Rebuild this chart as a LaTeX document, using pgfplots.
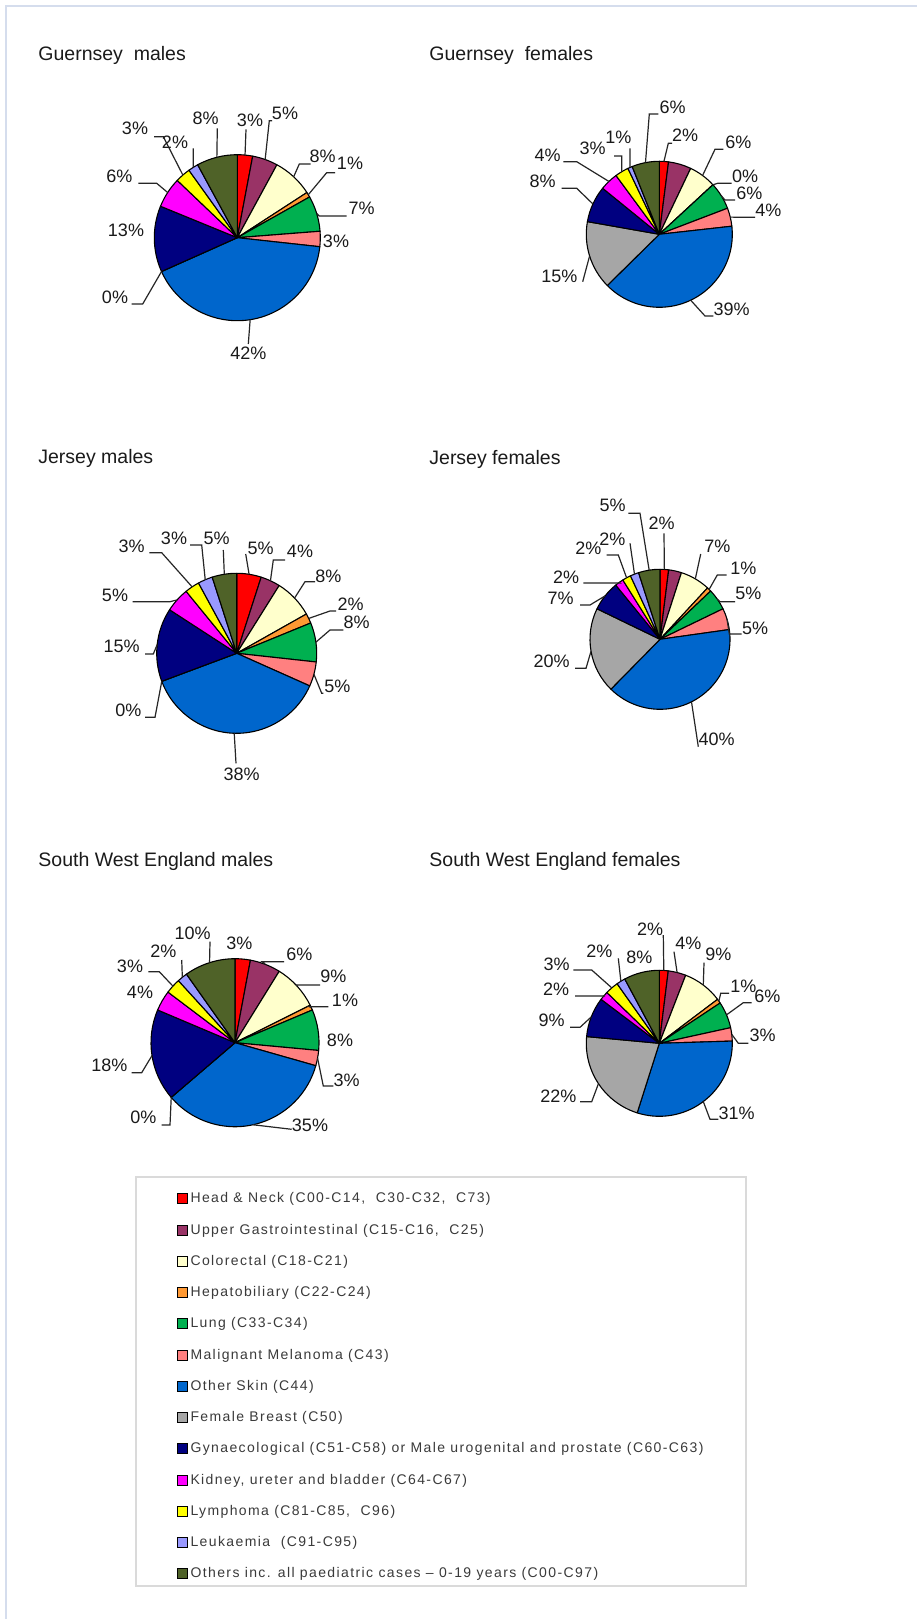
\documentclass[border=0pt]{standalone}
\usepackage{pgfplots}
\pgfplotsset{compat=1.18}
\usepackage{pgfplotstable}
\usepackage{fontspec}
\setmainfont{Liberation Sans}
\newfontfamily\legfont{Liberation Sans}[LetterSpace=10]

\definecolor{c0}{HTML}{FF0000}
\definecolor{c1}{HTML}{993366}
\definecolor{c2}{HTML}{FFFFCC}
\definecolor{c3}{HTML}{FF9933}
\definecolor{c4}{HTML}{00B050}
\definecolor{c5}{HTML}{FF8080}
\definecolor{c6}{HTML}{0066CC}
\definecolor{c7}{HTML}{A6A6A6}
\definecolor{c8}{HTML}{000080}
\definecolor{c9}{HTML}{FF00FF}
\definecolor{c10}{HTML}{FFFF00}
\definecolor{c11}{HTML}{9999FF}
\definecolor{c12}{HTML}{4F6228}
\definecolor{txtcol}{HTML}{1A1A1A}
\definecolor{legtxt}{HTML}{3A3A3A}
\definecolor{pageline}{HTML}{D5DDED}
\definecolor{legframe}{HTML}{DADADA}

% columns: v = percentage, s = label shown, tx ty = label centre (px),
% l = leader drawn, ex ey = leader elbow (px), fx = leader end x (px)
\pgfplotstableread{
v s tx ty l ex ey fx
3 1 250 120.7 1 246 129.3 246
5 1 285 113.3 1 269.3 120.7 272
8 1 322.7 156.7 1 299.3 164 310.7
1 1 350 163.3 1 326.7 172.7 335
7 1 361.7 208.3 1 319.3 216 346.7
3 1 336 241.7 0 0 0 0
42 1 248.3 353.3 1 248.3 344 248.3
0 1 115 297.7 1 142.7 304 131.7
13 1 126 230.7 0 0 0 0
6 1 119.3 176 1 156.7 183.3 138.3
3 1 135 128.3 1 163.3 136.7 154
2 1 175 142.7 1 193.3 148.3 193.3
8 1 205.7 118.3 1 217.3 128.3 217.3
}\gm
\pgfplotstableread{
v s tx ty l ex ey fx
2 1 685 135 1 668.3 143.3 672
5 0 0 0 0 0 0 0
6 1 738.3 142.7 1 715 149.3 723.3
0 1 745 176 1 717.7 183.3 731.7
6 1 749.3 193.3 1 725 200 735
4 1 768.3 210.7 1 740 217.3 755
39 1 731.7 309.3 1 705 316 713.3
15 1 559.3 276 1 582.7 281.7 582.7
8 1 542.7 181.7 1 576.7 188.3 561.7
4 1 547.7 155 1 576.7 161.7 563.3
3 1 592.7 148.3 1 621.7 156 614
1 1 618.3 137.3 1 630 148.3 630
6 1 672.7 107.3 1 649.3 114 658.3
}\gf
\pgfplotstableread{
v s tx ty l ex ey fx
5 1 260.7 548.3 1 245.7 554 245.7
4 1 300 551.7 1 273.3 560 285
8 1 328.3 576 1 305 581.7 315
2 1 350.7 604.5 1 330 611 336
8 1 356.7 622.5 1 330 630 343.3
5 1 337.3 686.7 1 321.7 693.3 323.3
38 1 241.7 774 1 236 763.3 236
0 1 128.3 710 1 155 717.3 145
15 1 121.7 646.7 1 153.3 654 145
5 1 115 595 1 170 601.7 132.7
3 1 131.7 546.7 1 161.7 552.7 149.3
3 1 174 538.3 1 201.7 545 190
5 1 216.7 538.3 1 223.3 550 223.3
}\jm
\pgfplotstableread{
v s tx ty l ex ey fx
2 1 661.7 523.3 1 664 533.3 664
3 0 0 0 0 0 0 0
7 1 717.3 546.7 1 700.7 554 700.7
1 1 743.3 568.3 1 717.3 575 726.7
5 1 748.3 593.3 1 720 601.7 735
5 1 755 628.3 1 729.3 634 741.7
40 1 716.7 739.3 1 698.3 746.7 698.3
20 1 551.7 661.7 1 586 668.3 575
7 1 560.7 598.3 1 590 605 580
2 1 566 577.3 1 620 583 583.3
2 1 588.3 548.3 1 618.3 555 606.7
2 1 612.3 539.3 1 630 543.3 630
5 1 612.7 505 1 640 513.3 628.3
}\jf
\pgfplotstableread{
v s tx ty l ex ey fx
3 1 239.3 943.3 0 0 0 0
6 1 299.3 954 1 262 961.7 284
9 1 333.3 976 1 296.7 985 320
1 1 345 1000 1 309.3 1006.7 328.3
8 1 340 1040.7 0 0 0 0
3 1 346.7 1080 1 323.3 1086 333.3
35 1 310 1125 1 291.7 1129.3 291.7
0 1 143.3 1117.3 1 170 1125 161.7
18 1 109.3 1065 1 141.7 1072.7 131.7
4 1 140 992.7 0 0 0 0
3 1 130 966 1 159.3 971.7 148.3
2 1 163.3 951.7 1 181.7 960 181.7
10 1 192.7 933.3 1 210 941.7 210
}\sm
\pgfplotstableread{
v s tx ty l ex ey fx
2 1 650 929.3 1 663.3 935 663.3
4 1 688.3 943.3 1 674 951.7 674
9 1 718.3 954 1 704 962.7 704
1 1 743.3 986 1 720.7 993.3 729
6 1 767.3 996 1 743.3 1002.7 751.7
3 1 762.7 1035 1 738.3 1043.3 748.3
31 1 736.7 1113.3 1 710 1119.3 718.3
22 1 558.3 1096.7 1 591.7 1101.7 580
9 1 551.7 1020.7 1 580 1027.3 570
2 1 556 989.3 1 605 996 575
3 1 556.7 964 1 591.7 970 573.3
2 1 599.3 951.7 1 618.3 958.3 618.3
8 1 639.3 957.3 0 0 0 0
}\sf

\pgfplotsset{
  pieax/.style={hide axis, disabledatascaling, x=0.5pt, y=0.5pt, y dir=reverse,
    xmin=0, xmax=917, ymin=0, ymax=1619, clip=false,
    anchor=south west, at={(0pt,0pt)}},
  sqleg/.style={legend image code/.code={%
    \draw[##1, line width=0.5pt] (0pt,-2.5pt) rectangle (5pt,2.5pt);
    \path[draw=none, fill=none] (6.5pt,0pt) circle[radius=0.01pt];}},
}
\tikzset{
  lbl/.style={font=\fontsize{9}{10}\selectfont, text=txtcol, inner sep=0pt},
  ldr/.style={draw=black!85, line width=0.6pt},
  ttl/.style={font=\fontsize{9.75}{11}\selectfont, text=txtcol, inner sep=0pt, anchor=base west},
}

% #1 table, #2 centre x (px), #3 centre y (px), #4 radius (px)
\newcommand\drawpie[4]{%
  \def\pieT{0}%
  \pgfplotsforeachungrouped \i in {0,...,12}{%
    \pgfplotstablegetelem{\i}{v}\of#1%
    \pgfmathsetmacro\pieT{\pieT+\pgfplotsretval}%
  }%
  \pgfmathsetmacro\pieU{360/\pieT}%
  \pgfmathsetmacro\pieR{#4*0.5}%
  \def\piecum{0}%
  \pgfplotsforeachungrouped \i in {0,...,12}{%
    \pgfplotstablegetelem{\i}{v}\of#1\let\pieV\pgfplotsretval
    \pgfmathsetmacro\pieA{90-\piecum*\pieU}%
    \pgfmathsetmacro\piecum{\piecum+\pieV}%
    \pgfmathsetmacro\pieB{90-\piecum*\pieU}%
    \pgfmathsetmacro\pieSX{#2+#4*cos(\pieA)}%
    \pgfmathsetmacro\pieSY{#3-#4*sin(\pieA)}%
    \edef\cmd{\noexpand\filldraw[fill=c\i, draw=black, line width=0.55pt, line join=round]
      (axis cs:#2,#3) -- (axis cs:\pieSX,\pieSY)
      arc[start angle=\pieA, end angle=\pieB, radius=\pieR pt] -- cycle;}%
    \cmd
  }%
  \def\piecum{0}%
  \pgfplotsforeachungrouped \i in {0,...,12}{%
    \pgfplotstablegetelem{\i}{v}\of#1\let\pieV\pgfplotsretval
    \pgfmathsetmacro\pieA{90-\piecum*\pieU}%
    \pgfmathsetmacro\piecum{\piecum+\pieV}%
    \pgfmathsetmacro\pieB{90-\piecum*\pieU}%
    \pgfmathsetmacro\pieM{(\pieA+\pieB)/2}%
    \pgfmathsetmacro\pieMX{#2+#4*cos(\pieM)}%
    \pgfmathsetmacro\pieMY{#3-#4*sin(\pieM)}%
    \pgfplotstablegetelem{\i}{s}\of#1\let\pieS\pgfplotsretval
    \pgfplotstablegetelem{\i}{tx}\of#1\let\pieTX\pgfplotsretval
    \pgfplotstablegetelem{\i}{ty}\of#1\let\pieTY\pgfplotsretval
    \pgfplotstablegetelem{\i}{l}\of#1\let\pieL\pgfplotsretval
    \pgfplotstablegetelem{\i}{ex}\of#1\let\pieEX\pgfplotsretval
    \pgfplotstablegetelem{\i}{ey}\of#1\let\pieEY\pgfplotsretval
    \pgfplotstablegetelem{\i}{fx}\of#1\let\pieFX\pgfplotsretval
    \ifnum\pieS=1
      \edef\cmd{\noexpand\node[lbl] at (axis cs:\pieTX,\pieTY) {\pieV\noexpand\%};}%
      \cmd
      \ifnum\pieL=1
        \edef\cmd{\noexpand\draw[ldr] (axis cs:\pieMX,\pieMY) -- (axis cs:\pieEX,\pieEY) -- (axis cs:\pieFX,\pieEY);}%
        \cmd
      \fi
    \fi
  }%
}

\begin{document}
\begin{tikzpicture}
\fill[white] (0pt,0pt) rectangle (458.5pt,809.5pt);
\draw[pageline, line width=0.8pt] (3pt,0pt) -- (3pt,806.5pt) -- (458.5pt,806.5pt);

\begin{axis}[pieax]
\node[ttl] at (axis cs:38,61) {Guernsey\ \ males};
\drawpie{\gm}{237.3}{237.7}{83}
\end{axis}

\begin{axis}[pieax]
\node[ttl] at (axis cs:429,61) {Guernsey\ \ females};
\drawpie{\gf}{659.3}{234.3}{73}
\end{axis}

\begin{axis}[pieax]
\node[ttl] at (axis cs:38,464) {Jersey males};
\drawpie{\jm}{236.7}{653.3}{80}
\end{axis}

\begin{axis}[pieax]
\node[ttl] at (axis cs:429,464) {Jersey females};
\drawpie{\jf}{660}{639.3}{70}
\end{axis}

\begin{axis}[pieax]
\node[ttl] at (axis cs:38,866) {South West England males};
\drawpie{\sm}{235}{1042.7}{84}
\end{axis}

\begin{axis}[pieax]
\node[ttl] at (axis cs:429,866) {South West England females};
\drawpie{\sf}{659.3}{1043.3}{73}
\end{axis}

\begin{axis}[hide axis, scale only axis, width=458.5pt, height=809.5pt,
  xmin=0, xmax=1, ymin=0, ymax=1, anchor=south west, at={(0pt,0pt)}, clip=false,
  legend cell align=left,
  legend style={at={(177/917,{1-1192/1619})}, anchor=north west, draw=none, fill=none,
    inner sep=0pt, outer sep=0pt, row sep=8.625pt,
    font=\legfont\fontsize{7}{8}\selectfont,
    nodes={inner sep=0pt, text height=5.5pt, text depth=1.5pt, text=legtxt}}]
\draw[legframe, line width=0.8pt] (axis description cs:{136/917},{1-1177/1619}) rectangle (axis description cs:{746/917},{1-1586/1619});
\addlegendimage{sqleg, fill=c0, draw=black}
\addlegendentry{Head \& Neck (C00-C14,\ \ C30-C32,\ \ C73)}
\addlegendimage{sqleg, fill=c1, draw=black}
\addlegendentry{Upper Gastrointestinal (C15-C16,\ \ C25)}
\addlegendimage{sqleg, fill=c2, draw=black}
\addlegendentry{Colorectal (C18-C21)}
\addlegendimage{sqleg, fill=c3, draw=black}
\addlegendentry{Hepatobiliary (C22-C24)}
\addlegendimage{sqleg, fill=c4, draw=black}
\addlegendentry{Lung (C33-C34)}
\addlegendimage{sqleg, fill=c5, draw=black}
\addlegendentry{Malignant Melanoma (C43)}
\addlegendimage{sqleg, fill=c6, draw=black}
\addlegendentry{Other Skin (C44)}
\addlegendimage{sqleg, fill=c7, draw=black}
\addlegendentry{Female Breast (C50)}
\addlegendimage{sqleg, fill=c8, draw=black}
\addlegendentry{Gynaecological (C51-C58) or Male urogenital and prostate (C60-C63)}
\addlegendimage{sqleg, fill=c9, draw=black}
\addlegendentry{Kidney, ureter and bladder (C64-C67)}
\addlegendimage{sqleg, fill=c10, draw=black}
\addlegendentry{Lymphoma (C81-C85,\ \ C96)}
\addlegendimage{sqleg, fill=c11, draw=black}
\addlegendentry{Leukaemia\ \ (C91-C95)}
\addlegendimage{sqleg, fill=c12, draw=black}
\addlegendentry{Others inc. all paediatric cases – 0-19 years (C00-C97)}
\end{axis}

\pgfresetboundingbox
\path (0pt,0pt) rectangle (458.5pt,809.5pt);
\end{tikzpicture}
\end{document}
